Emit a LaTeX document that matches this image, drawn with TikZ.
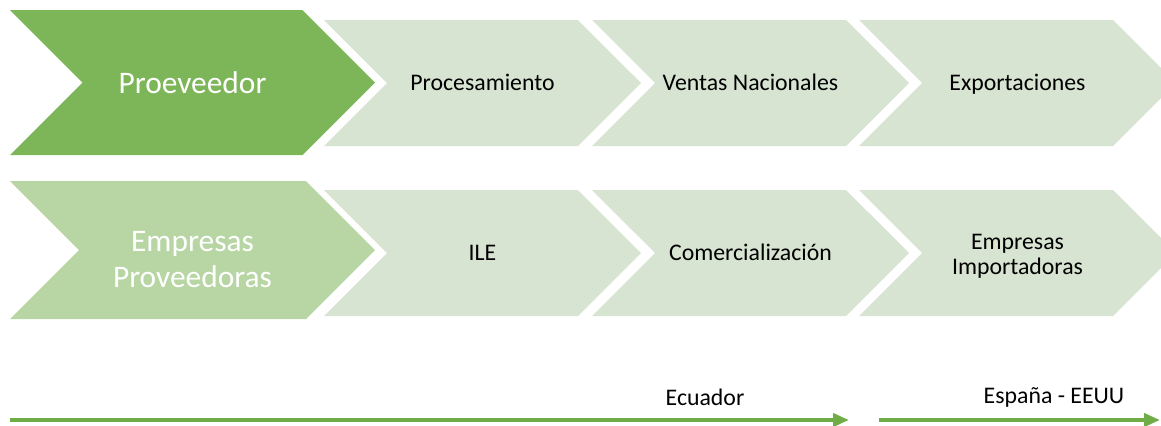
\documentclass[tikz,border=0pt]{standalone}
\usepackage{fontspec}
\setmainfont{Carlito}
\usetikzlibrary{shapes.symbols, arrows.meta}
\definecolor{darkgreen}{RGB}{125,182,88}
\definecolor{midgreen}{RGB}{184,214,164}
\definecolor{palegreen}{RGB}{216,228,210}
\definecolor{arrowgreen}{RGB}{112,173,71}

\begin{document}
\begin{tikzpicture}[
        x=0.5pt, y=-0.5pt,
        chevron/.style={shape=signal, signal from=west, signal to=east, inner sep=0pt, outer sep=0pt, align=center},
        stage/.style={chevron, fill=palegreen, text=black, minimum width=158.5pt, minimum height=63pt, font=\fontsize{11.9}{12.5}\selectfont},
        oneline/.style={text height=9.5pt, text depth=2.5pt},
        lead/.style={chevron, text=white, minimum width=182.5pt, font=\fontsize{15.7}{18}\selectfont},
        region/.style={inner sep=0pt, font=\fontsize{11.9}{14}\selectfont},
        arrow/.style={-{Triangle[length=8pt, width=6.5pt]}, line width=2pt, arrowgreen}
    ]
    \clip (0,0) rectangle (1161,425);

    % first row
    \node[lead, fill=darkgreen, minimum height=72.5pt] (prov) at (192.5,82.5) {Proeveedor};
    \node[stage, oneline] (proc) at (482.5,83) {Procesamiento};
    \node[stage, oneline] (vent) at (750.5,83) {Ventas Nacionales};
    \node[stage, oneline] (expo) at (1017.5,83) {Exportaciones};

    % second row
    \node[lead, fill=midgreen, minimum height=69pt] (empprov) at (192.5,250) {\rule{0pt}{20pt}Empresas\\Proveedoras};
    \node[stage, oneline] (ile) at (482.5,253) {ILE};
    \node[stage, oneline] (come) at (750.5,253) {Comercialización};
    \node[stage] (empimp) at (1017.5,253) {\rule{0pt}{10.7pt}Empresas\\Importadoras};

    % countries
    \node[region] (ecu) at (705,397) {Ecuador};
    \node[region] (esp) at (1054,397) {España - EEUU};
    \coordinate (ecus) at (10,420);
    \coordinate (ecue) at (849,420);
    \coordinate (esps) at (879,420);
    \coordinate (espe) at (1160,420);
    \draw[arrow] (ecus) -- (ecue);
    \draw[arrow] (esps) -- (espe);
\end{tikzpicture}
\end{document}
